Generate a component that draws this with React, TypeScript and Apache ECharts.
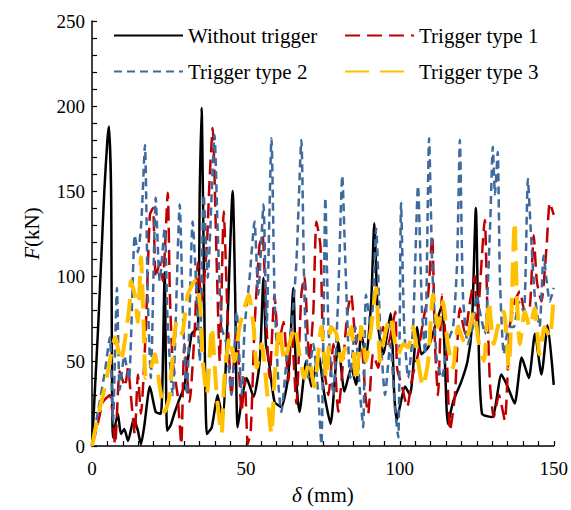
import React, { useEffect, useRef } from "react";
import * as echarts from "echarts";

const seriesNames = ["Without trigger", "Trigger type 1", "Trigger type 2", "Trigger type 3"];
const xTicksLabeled = [0, 50, 100, 150];
const yTicksLabeled = [0, 50, 100, 150, 200, 250];

const withoutTrigger: number[][] = [
  [0,0],[1,35],[2,70],[3,110],[4,150],[5,180],[5.5,188],[6.2,150],[6.8,5],[8.4,19],[9.4,7],[10.5,10],[11.7,3],[13.6,16],[14.9,9],[15.9,1],[17,12],[18.8,35],[20.7,20],[22.4,19],[23.6,102],[24.4,9],[25.5,12],[26.9,20],[28.5,28],[30,35],[32.4,66],[34.4,70],[35,150],[35.6,199],[36.3,110],[37.3,7],[38.9,11],[40.8,30],[42.4,15],[44,73],[45.7,150],[46.5,90],[47.3,11],[48.9,30],[50.2,40],[52.5,29],[54.5,50],[55.7,99],[56.5,60],[57.3,52],[59.3,26],[61.5,23],[63.8,42],[65.4,93],[66.3,40],[67.4,20],[69.6,50],[71.3,35],[73.5,54],[75.5,30],[77.5,13],[80,61],[82,32],[84.2,46],[85.8,36],[87.5,66],[89,52],[90.7,85],[91.7,131],[93,70],[94.6,54],[97,78],[98.2,30],[99,15],[100,23],[101.7,35],[103.3,30],[105.6,70],[107,54],[109.2,58],[111.4,70],[113.7,83],[115.6,13],[117.3,26],[120,38],[122,50],[123.4,70],[124.7,140],[125.6,60],[126.7,19],[130,17],[133,42],[135,35],[137.3,25],[139.6,52],[141.9,40],[143.9,66],[146,42],[148,71],[150,36]
];

const triggerType1: number[][] = [
  [0,0],[1.5,10],[3.6,26],[5.8,30],[7.5,1],[9,44],[10.7,35],[11.7,46],[12.6,30],[13.9,7],[14.9,42],[15.9,19],[17.5,70],[18.8,136],[19.8,140],[20.7,99],[22,108],[23,97],[24.6,149],[25.3,89],[26.2,50],[27.8,30],[29,1],[30,60],[31.7,26],[33.4,70],[34.4,108],[35.6,85],[37.3,118],[38.2,157],[39.2,187],[40.5,108],[41.5,50],[42.8,138],[44,79],[45.3,30],[47,70],[48.6,20],[49.6,40],[50.6,1],[51.6,10],[52.8,70],[54.4,118],[55.4,124],[56.7,70],[57.7,40],[59.3,89],[60.6,60],[62.2,73],[63.8,38],[64.8,70],[66.4,25],[68,89],[69,100],[70.6,50],[71.9,79],[72.9,132],[74.2,118],[75.2,50],[76.8,30],[78.4,60],[80,20],[81.6,50],[83,79],[84.2,89],[85.8,60],[87.1,70],[88.8,30],[89.7,19],[91.3,54],[93,46],[94.6,70],[96.2,60],[98.5,79],[99.1,46],[100.7,35],[102.4,23],[104,40],[105.9,54],[107.5,73],[109.2,89],[110.5,124],[111.4,60],[112.4,30],[113.7,89],[115.3,50],[116.3,9],[117.9,30],[119.5,81],[121.2,66],[122.8,85],[124.4,100],[125,70],[127.6,133],[128.3,89],[129.3,36],[130.5,17],[132.2,30],[134.1,15],[135.7,70],[137.3,85],[139,91],[140.6,79],[142.2,81],[143.5,124],[144.5,97],[146,85],[147.7,118],[148.7,143],[150,136]
];

const triggerType2: number[][] = [
  [0,0],[1.9,20],[4.2,44],[5.8,64],[6.8,14],[8.1,93],[9,33],[10.5,53],[12,39],[13.9,124],[14.9,114],[16,131],[17.2,177],[18.1,89],[19.1,40],[20.7,146],[22,97],[23.6,128],[24.6,71],[26.2,30],[28.5,142],[29.5,79],[30.8,30],[32.7,132],[34,89],[35,50],[36.3,148],[37.6,99],[39.8,183],[40.8,128],[42.1,70],[43.7,60],[45.3,30],[47,79],[48.6,30],[49.6,70],[51.2,99],[52.8,132],[54,89],[55.7,142],[56.7,70],[58.3,181],[59.3,89],[60.6,35],[61.5,20],[63.2,50],[64.8,70],[66.4,108],[68,180],[69,89],[70.3,40],[71.9,60],[73.5,30],[74.5,1],[75.2,70],[75.8,146],[76.8,70],[78.4,30],[80,89],[81.3,159],[82.3,108],[83.9,40],[85.5,70],[87.1,30],[88.1,11],[89,89],[90.7,70],[92.3,128],[93.6,70],[95.2,30],[96.9,60],[98.5,20],[99.5,5],[100.4,143],[101.4,70],[102.7,40],[104.3,70],[105.9,153],[107.2,79],[108.2,54],[109.5,181],[110.5,108],[112,50],[113.7,40],[115.3,60],[117.3,70],[118.6,108],[119.5,180],[120.5,89],[122.1,60],[123.7,70],[125,89],[126,79],[127.6,66],[129.3,128],[130.2,176],[130.9,148],[131.8,173],[132.5,99],[133.8,54],[135.4,70],[137,70],[138.6,85],[140.3,79],[141.6,157],[142.5,128],[143.8,89],[145.4,70],[146.7,112],[147.7,97],[148.7,85],[150,93]
];

const triggerType3: number[][] = [
  [0,0],[1.9,17],[4.2,35],[5.8,50],[7.5,64],[9.4,50],[11,66],[12.3,85],[12.6,97],[13.9,89],[14.9,73],[15.9,111],[16.8,70],[17.5,40],[19.1,46],[20.4,54],[22,35],[23.6,20],[25.3,30],[25.9,46],[27.5,73],[29.2,66],[31.1,89],[33.4,97],[35,85],[36,50],[37.3,30],[38.9,70],[40.5,30],[42.1,7],[43,40],[44.7,64],[46.3,50],[47.9,70],[49.2,79],[50.9,89],[52.5,70],[53.5,46],[55.1,60],[56.7,35],[58.3,7],[59.3,40],[60.9,70],[62.5,50],[64.1,60],[65.8,70],[67.4,54],[69,40],[70.6,50],[72.2,35],[74.5,70],[76.1,40],[77.7,70],[79.4,66],[81,50],[82.6,60],[84.2,70],[85.8,38],[87.5,70],[89,50],[90.7,70],[92.3,93],[93.6,50],[95.2,66],[96.9,76],[98.5,60],[99.5,54],[101.1,60],[102.7,58],[104.3,70],[105.9,50],[107.5,35],[109.2,50],[110.8,89],[112.4,70],[114,85],[115.6,60],[117.3,46],[118.9,70],[121.2,60],[122.8,70],[124.1,79],[125.7,60],[127.3,50],[128.9,85],[130.5,60],[132.2,73],[133.8,79],[135.4,46],[136.1,70],[137.3,132],[138,89],[139,60],[140.6,79],[142.2,70],[143.8,81],[145.4,54],[147,70],[148.7,64],[150,89]
];

const FONT = "Liberation Serif";

export default function App() {
  const ref = useRef<HTMLDivElement>(null);
  useEffect(() => {
    if (!ref.current) return;
    const chart = echarts.init(ref.current, undefined, { renderer: "svg" });
    const ts = { fontFamily: FONT, fontSize: 19, color: "#000" };
    const big = { fontFamily: FONT, fontSize: 21, color: "#000" };
    const rich = { a: { ...big }, i: { ...big, fontStyle: "italic" } };
    const mk = (name: string, data: number[][], color: string, width: number, dash: any) => ({
      name,
      type: "line",
      data,
      symbol: "none",
      smooth: 0.2,
      lineStyle: { color, width, type: dash, cap: "butt" },
      itemStyle: { color },
    });
    const legendBase = {
      orient: "vertical",
      top: 25,
      padding: 0,
      itemWidth: 69,
      itemHeight: 14,
      itemGap: 15,
      textStyle: { ...big, lineHeight: 21 },
      itemStyle: { opacity: 0 },
    };
    chart.setOption({
      animation: false,
      backgroundColor: "#fff",
      textStyle: { fontFamily: FONT },
      grid: { left: 92, right: 16, top: 21, bottom: 62, containLabel: false },
      legend: [
        { ...legendBase, data: [seriesNames[0], seriesNames[2]], left: 113 },
        { ...legendBase, data: [seriesNames[1], seriesNames[3]], left: 344 },
      ],
      xAxis: {
        type: "value",
        min: 0,
        max: 150,
        interval: 5,
        name: "{i|δ}{a| (mm)}",
        nameLocation: "middle",
        nameGap: 38,
        nameTextStyle: { ...big, rich },
        axisLine: { lineStyle: { color: "#000", width: 1.5 } },
        axisTick: { inside: true, length: 5, lineStyle: { color: "#000", width: 1.2 } },
        axisLabel: {
          ...ts,
          margin: 13,
          formatter: (v: number) => (xTicksLabeled.includes(v) ? String(v) : ""),
        },
        splitLine: { show: false },
      },
      yAxis: {
        type: "value",
        min: 0,
        max: 250,
        interval: 10,
        name: "{i|F}{a|(kN)}",
        nameLocation: "middle",
        nameGap: 50,
        nameTextStyle: { ...big, rich },
        axisLine: { show: true, lineStyle: { color: "#000", width: 1.5 } },
        axisTick: { show: true, inside: true, length: 5, lineStyle: { color: "#000", width: 1.2 } },
        axisLabel: {
          ...ts,
          margin: 7,
          formatter: (v: number) => (yTicksLabeled.includes(v) ? String(v) : ""),
        },
        splitLine: { show: false },
      },
      series: [
        mk(seriesNames[0], withoutTrigger, "#000000", 2.5, "solid"),
        mk(seriesNames[1], triggerType1, "#C00000", 2.5, [15, 7]),
        mk(seriesNames[2], triggerType2, "#3F6A9E", 2.5, [8, 5]),
        mk(seriesNames[3], triggerType3, "#FFC000", 4, [24, 11]),
      ],
    });
    return () => chart.dispose();
  }, []);
  return <div ref={ref} style={{ position: "fixed", left: 0, top: 0, width: 571, height: 510 }} />;
}
